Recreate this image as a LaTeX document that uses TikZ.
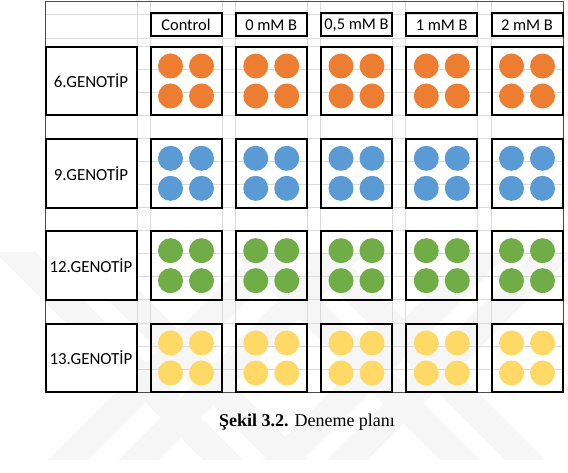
\documentclass[tikz,border=0pt]{standalone}
\usepackage{fontspec}
\setmainfont{Carlito}
\newfontfamily\capfont{Liberation Serif}
\definecolor{gOrange}{HTML}{ED7D31}
\definecolor{gBlue}{HTML}{5B9BD5}
\definecolor{gGreen}{HTML}{70AD47}
\definecolor{gYellow}{HTML}{FFD966}
\tikzset{
  gridline/.style={draw=gray!28, line width=0.8pt},
  stripe/.style={fill=gray!7},
  wellbox/.style={draw=black, line width=2pt, minimum width=71pt, minimum height=68.5pt, inner sep=0pt},
  genobox/.style={wellbox, fill=white, minimum width=91pt, font=\fontsize{16.9}{19}\selectfont},
  headbox/.style={wellbox, minimum height=23pt, font=\fontsize{16.4}{18}\selectfont}
}
\begin{document}
\begin{tikzpicture}[x=1pt,y=-1pt]
  \useasboundingbox (0,0) rectangle (568,473);
  % faint stripes behind the sheet
  \foreach \s in {-5,60}
    \fill[stripe] (\s,252) -- (\s+40,252) -- (\s+248,460) -- (\s+208,460) -- cycle;
  \foreach \s in {48,118}
    \fill[stripe] (\s,460) -- (\s+40,460) -- (\s+248,252) -- (\s+208,252) -- cycle;
  \foreach \s in {440,505}
    \fill[stripe] (\s,460) -- (\s+40,460) -- (\s-168,252) -- (\s-208,252) -- cycle;
  \foreach \s in {470,535}
    \fill[stripe] (\s,252) -- (\s+40,252) -- (\s-168,460) -- (\s-208,460) -- cycle;
  % spreadsheet cells
  \draw[gridline] (45,14) -- (563,14);
  \draw[gridline] (45,38) -- (563,38);
  \foreach \k in {0,...,15}
    \draw[gridline] (137,46+23.08*\k) -- (563,46+23.08*\k);
  \draw[gridline] (137,2) -- (137,392);
  \foreach \t in {0,...,4} {
    \draw[gridline] (150+85.25*\t,2) -- (150+85.25*\t,392);
    \draw[gridline] (222+85.25*\t,2) -- (222+85.25*\t,392);
  }
  \draw[gray!60!black, line width=1pt] (45,2) rectangle (563,392);
  % treatments
  \foreach \name [count=\t from 0] in {Control,0 mM B,{0,5 mM B},1 mM B,2 mM B}
    \node[headbox] (h\t) at (186+85.25*\t,25) {\name};
  % genotypes with four plants per treatment
  \foreach \lab/\col [count=\g from 0] in {6.GENOTİP/gOrange,9.GENOTİP/gBlue,12.GENOTİP/gGreen,13.GENOTİP/gYellow} {
    \node[genobox] (g\g) at (91,81+92.33*\g) {\lab};
    \foreach \t in {0,...,4} {
      \node[wellbox] (w\g\t) at (186+85.25*\t,81+92.33*\g) {};
      \foreach \dx/\dy in {-15.5/-15,15.5/-15,-15.5/15,15.5/15}
        \fill[\col] ([shift={(\dx,\dy)}]w\g\t.center) circle (12.5);
    }
  }
  \node[font=\capfont\fontsize{18}{20}\selectfont] (cap) at (307,422) {\textbf{Şekil 3.2.} Deneme planı};
\end{tikzpicture}
\end{document}
